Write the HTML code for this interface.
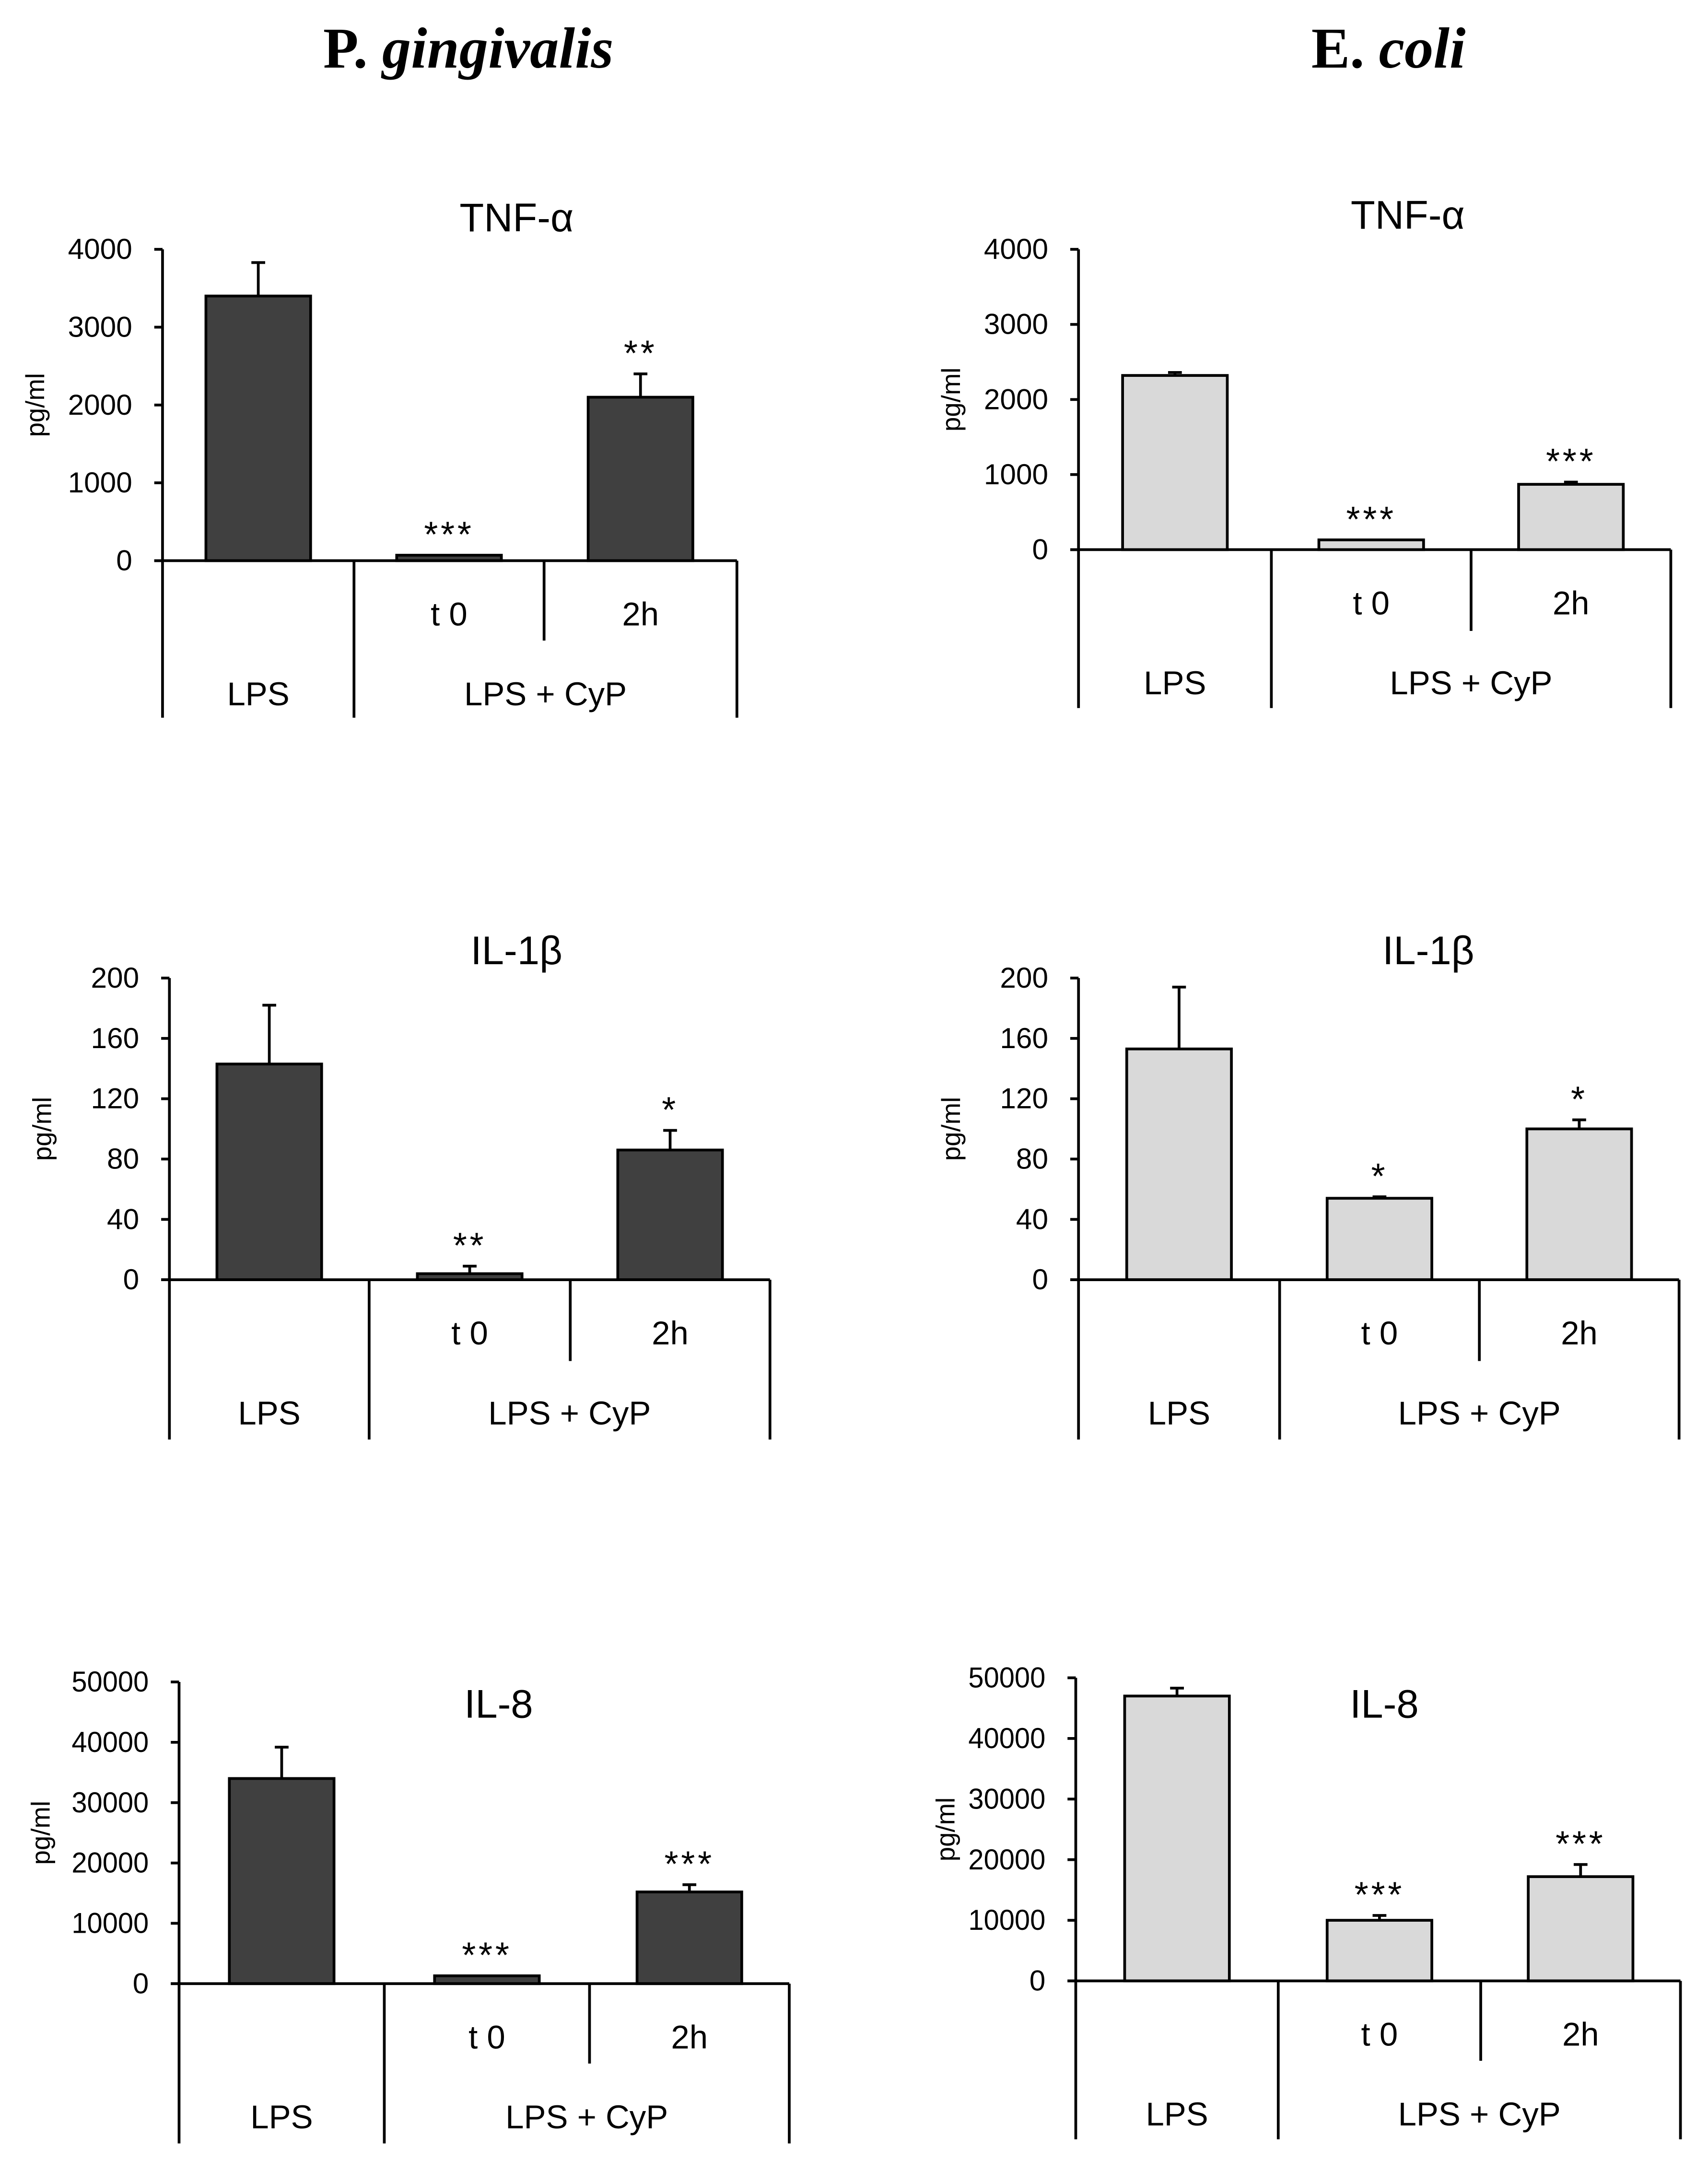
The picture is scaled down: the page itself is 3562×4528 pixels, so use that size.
<!DOCTYPE html>
<html><head><meta charset="utf-8">
<style>
html,body{margin:0;padding:0;background:#fff;}
svg{display:block;}
text{font-family:"Liberation Sans",sans-serif;fill:#000;}
</style></head>
<body>
<svg id="fig" width="3562" height="4528" viewBox="0 0 1240 1576" preserveAspectRatio="none" xmlns="http://www.w3.org/2000/svg">
<text x="340" y="49" text-anchor="middle" font-weight="bold" font-size="42" style="font-family:'Liberation Serif',serif">P. <tspan font-style="italic">gingivalis</tspan></text>
<text x="1008" y="49" text-anchor="middle" font-weight="bold" font-size="42" style="font-family:'Liberation Serif',serif">E. <tspan font-style="italic">coli</tspan></text>
</svg>
<script>
const categories = ["LPS", "t 0", "2h"];
const pgTnfValues = [3400, 70, 2100];
const pgTnfErrors = [430, 0, 300];
const pgTnfStars = ["", "***", "**"];
const pgTnfTicks = [0, 1000, 2000, 3000, 4000];
const ecTnfValues = [2320, 130, 870];
const ecTnfErrors = [40, 0, 30];
const ecTnfStars = ["", "***", "***"];
const ecTnfTicks = [0, 1000, 2000, 3000, 4000];
const pgIl1Values = [143, 4, 86];
const pgIl1Errors = [39, 5, 13];
const pgIl1Stars = ["", "**", "*"];
const pgIl1Ticks = [0, 40, 80, 120, 160, 200];
const ecIl1Values = [153, 54, 100];
const ecIl1Errors = [41, 1, 6];
const ecIl1Stars = ["", "*", "*"];
const ecIl1Ticks = [0, 40, 80, 120, 160, 200];
const pgIl8Values = [34000, 1300, 15200];
const pgIl8Errors = [5200, 0, 1200];
const pgIl8Stars = ["", "***", "***"];
const pgIl8Ticks = [0, 10000, 20000, 30000, 40000, 50000];
const ecIl8Values = [47000, 10000, 17200];
const ecIl8Errors = [1300, 800, 2000];
const ecIl8Stars = ["", "***", "***"];
const ecIl8Ticks = [0, 10000, 20000, 30000, 40000, 50000];

const NS = "http://www.w3.org/2000/svg";
const svg = document.getElementById("fig");
function mk(tag, attrs, parent) {
  const e = document.createElementNS(NS, tag);
  for (const k in attrs) e.setAttribute(k, attrs[k]);
  (parent || svg).appendChild(e);
  return e;
}
function drawChart(cfg, values, errors, stars, ticks) {
  const g = mk("g", {});
  
  
  const max = ticks[ticks.length - 1];
  const yS = v => cfg.y0 - (v / max) * (cfg.y0 - cfg.yTop);
  const xC = i => (cfg.div[i] + cfg.div[i + 1]) / 2;
  const bw = 76;
  values.forEach((v, i) => {
    const r = mk("rect", {x: xC(i) - bw / 2, y: yS(v), width: bw, height: cfg.y0 - yS(v), fill: cfg.fill, stroke: "#000", "stroke-width": 2}, g);
    
    
    if (errors[i] > 0) {
      const e = mk("path", {d: `M${xC(i)},${yS(v)} V${yS(v + errors[i])} M${xC(i) - 5},${yS(v + errors[i])} H${xC(i) + 5}`, stroke: "#000", "stroke-width": 2, fill: "none"}, g);
      
      
    }
    if (stars[i]) {
      const s = mk("text", {x: xC(i), y: yS(v + errors[i]) - 6, "text-anchor": "middle", "font-size": 26, "letter-spacing": 2}, g);
      
      
      s.textContent = stars[i];
    }
  });
  const ax = mk("path", {d: `M${cfg.ax},${cfg.yTop} V${cfg.bottom} M${cfg.ax - 6},${cfg.y0} H${cfg.div[3]}`, stroke: "#000", "stroke-width": 2, fill: "none"}, g);
  
  
  ticks.forEach(t => {
    mk("line", {x1: cfg.ax - 6, x2: cfg.ax, y1: yS(t), y2: yS(t), stroke: "#000", "stroke-width": 2}, g);
    const attrs = {x: cfg.ax - 22, y: yS(t) + 7, "text-anchor": "end", "font-size": 21};
    if (String(t).length >= 5) { attrs.textLength = 56; attrs.lengthAdjust = "spacingAndGlyphs"; }
    const tl = mk("text", attrs, g);
    
    
    tl.textContent = t;
  });
  mk("line", {x1: cfg.div[1], x2: cfg.div[1], y1: cfg.y0, y2: cfg.bottom, stroke: "#000", "stroke-width": 2}, g);
  mk("line", {x1: cfg.div[2], x2: cfg.div[2], y1: cfg.y0, y2: cfg.mid, stroke: "#000", "stroke-width": 2}, g);
  mk("line", {x1: cfg.div[3], x2: cfg.div[3], y1: cfg.y0, y2: cfg.bottom, stroke: "#000", "stroke-width": 2}, g);
  const labs = [[xC(1), cfg.y0 + 47, categories[1]], [xC(2), cfg.y0 + 47, categories[2]],
    [xC(0), cfg.y0 + 105, "LPS"], [(cfg.div[1] + cfg.div[3]) / 2, cfg.y0 + 105, "LPS + CyP"]];
  labs.forEach(l => {
    const t = mk("text", {x: l[0], y: l[1], "text-anchor": "middle", "font-size": 24}, g);
    
    
    t.textContent = l[2];
  });
  const yt = mk("text", {x: 0, y: 0, "text-anchor": "middle", "font-size": 19, transform: `translate(${cfg.ax - (cfg.yto || 86)},${(cfg.yTop + cfg.y0) / 2}) rotate(-90)`}, g);
  
  
  yt.textContent = "pg/ml";
  const tt = mk("text", {x: cfg.tx, y: cfg.ty, "text-anchor": "middle", "font-size": 29}, g);
  
  
  tt.textContent = cfg.title;
}
const DARK = "#404040", LIGHT = "#d9d9d9";
drawChart({name: "pg-tnf-chart", title: "TNF-α", tx: 375, ty: 168, ax: 118, yTop: 181, y0: 407, div: [118, 257, 395, 535], mid: 465, bottom: 521, fill: DARK}, pgTnfValues, pgTnfErrors, pgTnfStars, pgTnfTicks);
drawChart({name: "ecoli-tnf-chart", title: "TNF-α", tx: 1022, ty: 166, ax: 783, yTop: 181, y0: 399, div: [783, 923, 1068, 1213], mid: 458, bottom: 514, fill: LIGHT}, ecTnfValues, ecTnfErrors, ecTnfStars, ecTnfTicks);
drawChart({name: "pg-il1b-chart", title: "IL-1β", tx: 375, ty: 700, ax: 123, yTop: 710, y0: 929, div: [123, 268, 414, 559], mid: 988, bottom: 1045, fill: DARK}, pgIl1Values, pgIl1Errors, pgIl1Stars, pgIl1Ticks);
drawChart({name: "ecoli-il1b-chart", title: "IL-1β", tx: 1037, ty: 700, ax: 783, yTop: 710, y0: 929, div: [783, 929, 1074, 1219], mid: 988, bottom: 1045, fill: LIGHT}, ecIl1Values, ecIl1Errors, ecIl1Stars, ecIl1Ticks);
drawChart({name: "pg-il8-chart", title: "IL-8", tx: 362, ty: 1247, ax: 130, yTop: 1221, y0: 1440, div: [130, 279, 428, 573], mid: 1498, bottom: 1556, fill: DARK, yto: 94}, pgIl8Values, pgIl8Errors, pgIl8Stars, pgIl8Ticks);
drawChart({name: "ecoli-il8-chart", title: "IL-8", tx: 1005, ty: 1247, ax: 781, yTop: 1218, y0: 1438, div: [781, 928, 1075, 1220], mid: 1496, bottom: 1553, fill: LIGHT, yto: 88}, ecIl8Values, ecIl8Errors, ecIl8Stars, ecIl8Ticks);
</script>
</body></html>
